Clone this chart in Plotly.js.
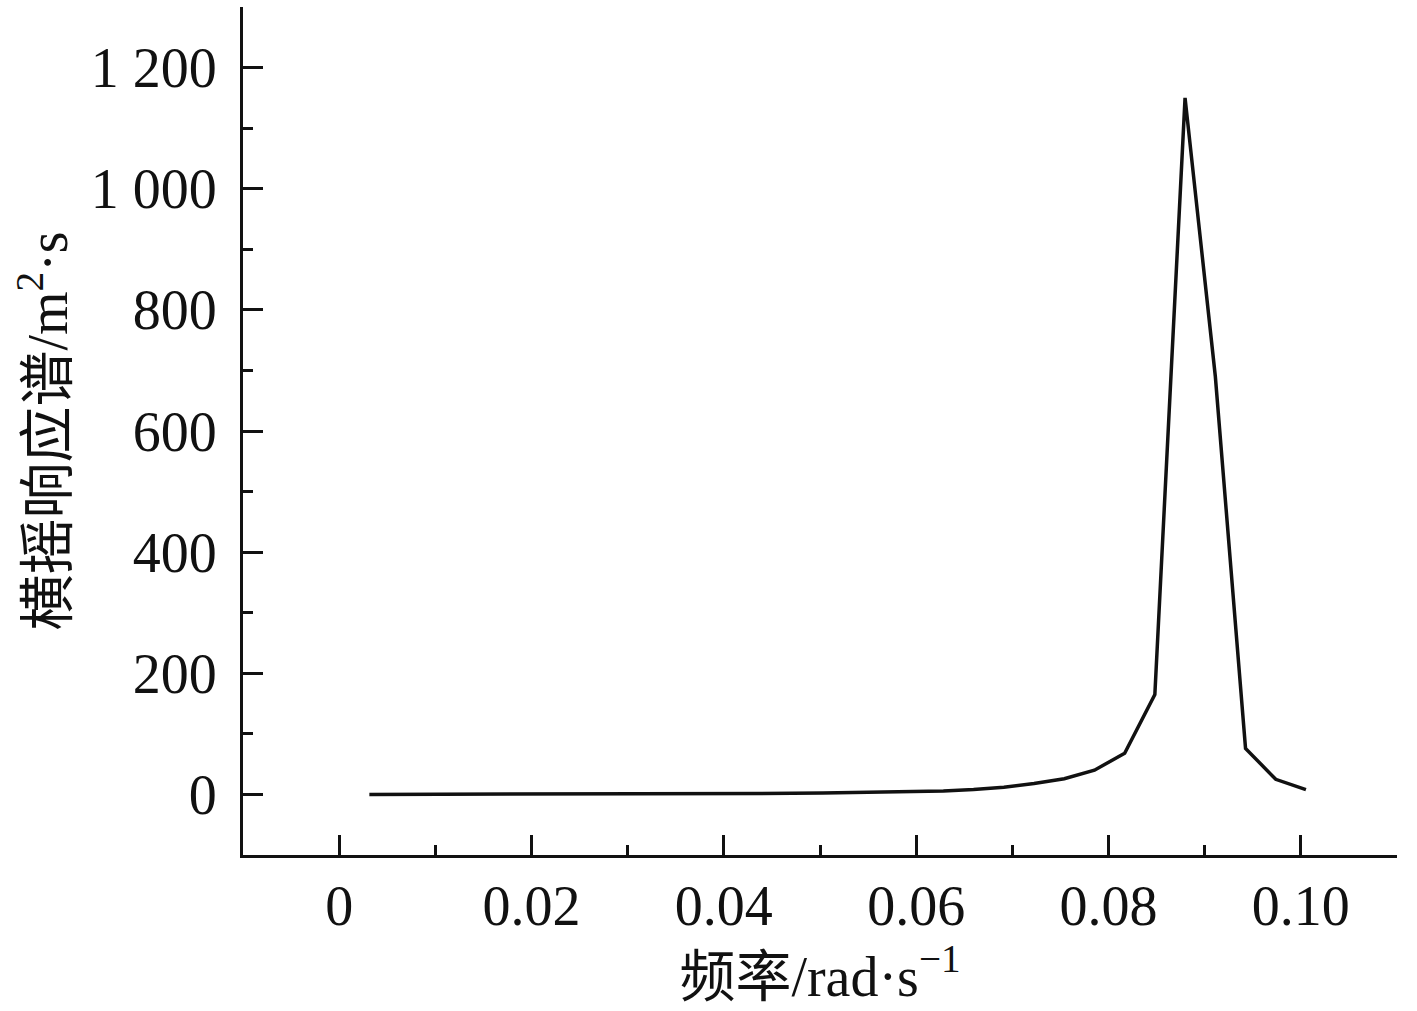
<!DOCTYPE html>
<html>
<head>
<meta charset="utf-8">
<script src="https://cdn.plot.ly/plotly-3.0.1.min.js"></script>
<style>
  html, body { margin: 0; padding: 0; background: #fff; }
  #chart { width: 1417px; height: 1011px; }
</style>
</head>
<body>
<div id="chart"></div>
<script>
// frequency (rad/s) and roll response spectrum values
const freq = [
    0.00314, 0.00628, 0.00942, 0.01257, 0.01571, 0.01885, 0.02199, 0.02513,
    0.02827, 0.03142, 0.03456, 0.03770, 0.04084, 0.04398, 0.04712, 0.05027,
    0.05341, 0.05655, 0.05969, 0.06283, 0.06597, 0.06912, 0.07226, 0.07540,
    0.07854, 0.08168, 0.08482, 0.08796, 0.09111, 0.09425, 0.09739, 0.10053
];
const spectrum = [
    0.05, 0.08, 0.1, 0.15, 0.2, 0.25, 0.3, 0.4,
    0.5, 0.6, 0.8, 1.0, 1.2, 1.5, 1.8, 2.2,
    2.7, 3.3, 4.2, 5.5, 8, 12, 18, 26,
    40, 68, 165, 1150, 690, 76, 25, 8
];

const xTickVals = [0, 0.02, 0.04, 0.06, 0.08, 0.10];
const xTickText = ['0', '0.02', '0.04', '0.06', '0.08', '0.10'];
const yTickVals = [0, 200, 400, 600, 800, 1000, 1200];
const yTickText = ['0', '200', '400', '600', '800', '1 000', '1 200'];

const fontFamily = '"Liberation Serif", "Times New Roman", "Noto Sans CJK SC", serif';

const trace = {
    x: freq,
    y: spectrum,
    type: 'scatter',
    mode: 'lines',
    line: { color: '#111', width: 3.5 },
    hoverinfo: 'skip'
};

const layout = {
    width: 1417,
    height: 1011,
    margin: { l: 243, r: 20, t: 7, b: 156 },
    paper_bgcolor: '#fff',
    plot_bgcolor: '#fff',
    showlegend: false,
    font: { family: fontFamily, color: '#111', size: 56 },
    xaxis: {
        range: [-0.01, 0.11],
        tickvals: xTickVals,
        ticktext: xTickText,
        ticks: 'inside',
        ticklen: 20,
        tickwidth: 3,
        tickcolor: '#111',
        ticklabelstandoff: 0,
        showline: true,
        linewidth: 3,
        linecolor: '#111',
        showgrid: false,
        zeroline: false,
        minor: { dtick: 0.01, tick0: 0, ticks: 'inside', ticklen: 10, tickwidth: 3, tickcolor: '#111', showgrid: false },
        tickfont: { family: fontFamily, size: 56 },
        title: { text: '频率/rad·s<sup>−1</sup>', font: { family: fontFamily, size: 56 }, standoff: 4 }
    },
    yaxis: {
        range: [-100, 1300],
        tickvals: yTickVals,
        ticktext: yTickText,
        ticks: 'inside',
        ticklen: 20,
        tickwidth: 3,
        tickcolor: '#111',
        ticklabelstandoff: 12,
        showline: true,
        linewidth: 3,
        linecolor: '#111',
        showgrid: false,
        zeroline: false,
        minor: { dtick: 100, tick0: 0, ticks: 'inside', ticklen: 10, tickwidth: 3, tickcolor: '#111', showgrid: false },
        tickfont: { family: fontFamily, size: 56 },
        title: { text: '横摇响应谱/m<sup>2</sup>·s', font: { family: fontFamily, size: 56 }, standoff: 6 }
    }
};

Plotly.newPlot('chart', [trace], layout, { displayModeBar: false, staticPlot: true });
</script>
</body>
</html>
